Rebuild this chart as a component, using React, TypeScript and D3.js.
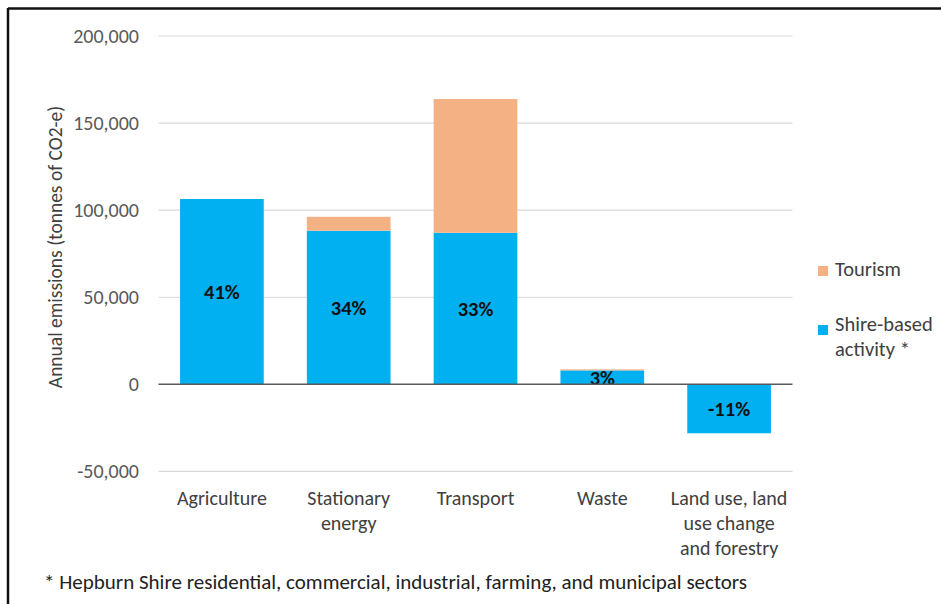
import React from "react";
import * as d3 from "d3";

const categories = ["Agriculture", "Stationary energy", "Transport", "Waste", "Land use, land use change and forestry"];
const categoryLines = [["Agriculture"], ["Stationary", "energy"], ["Transport"], ["Waste"], ["Land use, land", "use change", "and forestry"]];
const shireValues = [106400, 88200, 87000, 8000, -28100];
const tourismValues = [0, 8000, 76800, 600, 0];
const shareLabels = ["41%", "34%", "33%", "3%", "-11%"];
const yTicks = [-50000, 0, 50000, 100000, 150000, 200000];
const seriesNames = ["Tourism", "Shire-based", "activity *"];
const footnote = "* Hepburn Shire residential, commercial, industrial, farming, and municipal sectors";
const yTitle = "Annual emissions (tonnes of CO2-e)";

const W = 941, H = 604;
const BLUE = "#00B0F0";
const ORANGE = "#F4B183";
const FONT = "Carlito, 'Open Sans', 'Noto Sans', sans-serif";

export default function App() {
  const x = d3.scaleBand<string>().domain(categories).range([158.5, 792.5]).paddingInner(0.34).paddingOuter(0.17);
  const y = d3.scaleLinear().domain([-50000, 200000]).range([471.4, 36]);
  const fmt = (v: number) => d3.format(",")(v).replace("\u2212", "-");
  return (
    <svg width={W} height={H} style={{ position: "absolute", left: 0, top: 0, background: "#fff" }} fontFamily={FONT}>
      <rect x={0} y={0} width={W} height={H} fill="#fff" />
      {/* frame */}
      <line x1={8} x2={W} y1={8.5} y2={8.5} stroke="#111" strokeWidth={2.5} />
      <line x1={8} x2={8} y1={8} y2={H} stroke="#111" strokeWidth={2.5} />
      {/* grid */}
      {yTicks.filter(t => t !== 0).map(t => (
        <line key={t} x1={158.5} x2={792.5} y1={y(t)} y2={y(t)} stroke="#D9D9D9" strokeWidth={1.2} />
      ))}
      {yTicks.map(t => (
        <text key={"l" + t} x={139} y={y(t)} dy="0.35em" textAnchor="end" fontSize={20} fill="#595959">{fmt(t)}</text>
      ))}
      <text transform={`translate(62,247) rotate(-90)`} textAnchor="middle" fontSize={19.5} fill="#404040">{yTitle}</text>
      {/* bars */}
      {categories.map((c, i) => {
        const s = shireValues[i];
        const t = tourismValues[i];
        const x0 = x(c)!;
        const bw = x.bandwidth();
        const sy0 = y(Math.max(0, s));
        const sy1 = y(Math.min(0, s));
        const base = Math.max(0, s);
        return (
          <g key={c}>
            <rect x={x0} width={bw} y={sy0} height={sy1 - sy0} fill={BLUE} />
            {t > 0 && <rect x={x0} width={bw} y={y(base + t)} height={y(base) - y(base + t)} fill={ORANGE} />}
            <text x={x0 + bw / 2} y={(sy0 + sy1) / 2} dy="0.36em" textAnchor="middle" fontSize={20.5} fontWeight="bold" fill="#111">{shareLabels[i]}</text>
          </g>
        );
      })}
      <line x1={158.5} x2={792.5} y1={y(0)} y2={y(0)} stroke="#595959" strokeWidth={1.5} />
      {/* category labels */}
      {categories.map((c, i) => (
        <text key={"c" + c} x={x(c)! + x.bandwidth() / 2} textAnchor="middle" fontSize={20} fill="#404040">
          {categoryLines[i].map((ln, j) => (
            <tspan key={j} x={x(c)! + x.bandwidth() / 2} y={505 + j * 25}>{ln}</tspan>
          ))}
        </text>
      ))}
      {/* legend */}
      <rect x={818} y={266} width={10} height={10} fill={ORANGE} />
      <text x={835} y={276} fontSize={20.5} fill="#404040">{seriesNames[0]}</text>
      <rect x={818} y={325} width={10} height={10} fill={BLUE} />
      <text x={835} y={331} fontSize={20.5} fill="#404040">
        <tspan x={835}>{seriesNames[1]}</tspan>
        <tspan x={835} dy={24.5}>{seriesNames[2]}</tspan>
      </text>
      <text x={44} y={589} fontSize={21} fill="#222">{footnote}</text>
    </svg>
  );
}
